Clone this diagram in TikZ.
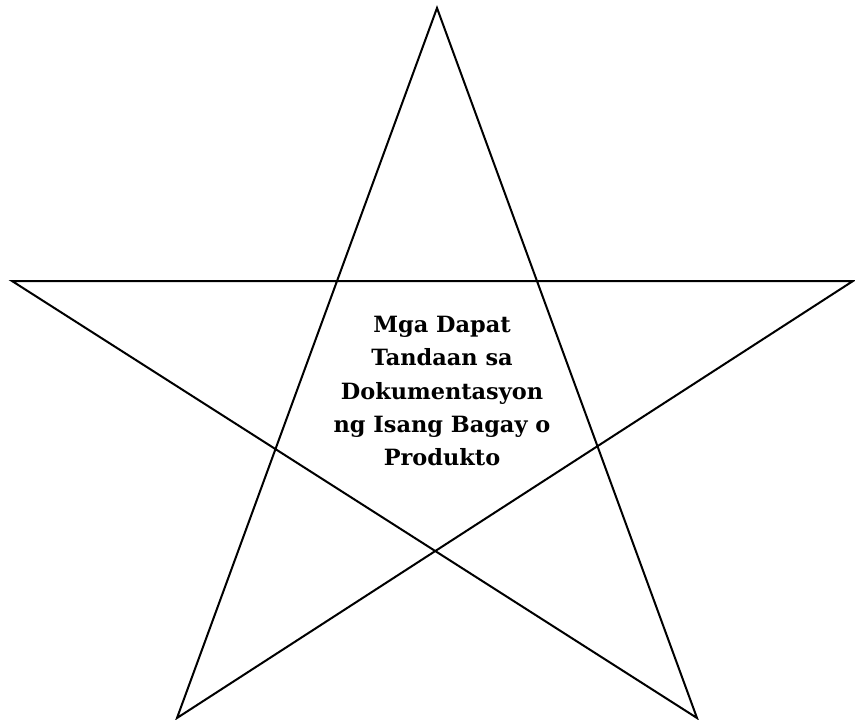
\documentclass[tikz,border=0pt]{standalone}
\usepackage{fontspec}
\setmainfont{DejaVu Serif}
\begin{document}
\begin{tikzpicture}[x=1bp,y=-1bp,
  starline/.style={draw=black,line width=2bp,line join=miter},
  title/.style={align=center,font=\bfseries\fontsize{22.5}{33.5}\selectfont}]
\useasboundingbox (0,0) rectangle (855,720);
\coordinate (T) at (437,8);
\coordinate (BL) at (177,718);
\coordinate (BR) at (697,718);
\coordinate (L) at (12,281);
\coordinate (R) at (853,281);
\draw[starline] (T) -- (BL) -- (R) -- (L) -- (BR) -- cycle;
\node[title] (txt) at (442,391) {Mga Dapat\\Tandaan sa\\Dokumentasyon\\ng Isang Bagay o\\Produkto};
\end{tikzpicture}
\end{document}
